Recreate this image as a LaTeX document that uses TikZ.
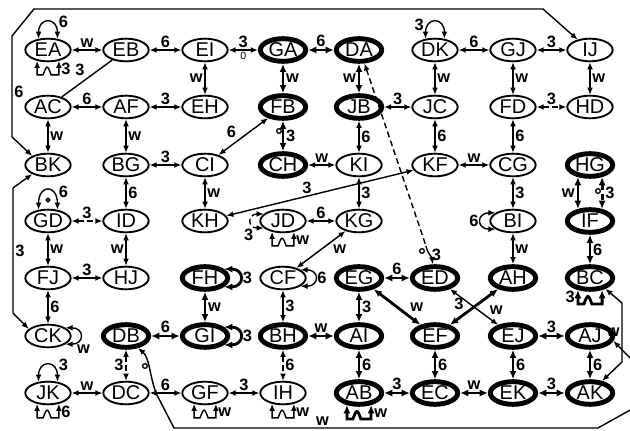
\documentclass[tikz,border=0pt]{standalone}
\usepackage{fontspec}
\setmainfont{Liberation Sans}
\usetikzlibrary{shapes.geometric,arrows.meta}

\tikzset{
  st/.style={ellipse,draw,line width=1.6pt,minimum width=1.36cm,minimum height=0.68cm,inner sep=0pt,font=\fontsize{17}{17}\selectfont},
  hv/.style={st,line width=4.2pt},
  e/.style={{Latex[length=6pt,width=5pt]}-{Latex[length=6pt,width=5pt]},line width=1.2pt},
  he/.style={{Latex[length=7pt,width=6pt]}-{Latex[length=7pt,width=6pt]},line width=2.4pt},
  dsh/.style={dash pattern=on 5pt off 3pt},
  lb/.style={font=\bfseries\fontsize{14}{14}\selectfont,inner sep=1.5pt},
  mk/.style={line width=1.1pt},
}

\begin{document}
\begin{tikzpicture}[x=0.03cm,y=0.03cm]
\useasboundingbox (0,0) rectangle (630,-431);

% row 1
\node[st] (EA) at (48,-50) {EA};
\node[st] (EB) at (126,-50) {EB};
\node[st] (EI) at (205,-50) {EI};
\node[hv] (GA) at (283,-50) {GA};
\node[hv] (DA) at (359,-50) {DA};
\node[st] (DK) at (435,-50) {DK};
\node[st] (GJ) at (513,-50) {GJ};
\node[st] (IJ) at (590,-50) {IJ};
% row 2
\node[st] (AC) at (48,-107) {AC};
\node[st] (AF) at (126,-107) {AF};
\node[st] (EH) at (205,-107) {EH};
\node[hv] (FB) at (283,-107) {FB};
\node[hv] (JB) at (359,-107) {JB};
\node[st] (JC) at (435,-107) {JC};
\node[st] (FD) at (513,-107) {FD};
\node[st] (HD) at (590,-107) {HD};
% row 3
\node[st] (BK) at (48,-165) {BK};
\node[st] (BG) at (126,-165) {BG};
\node[st] (CI) at (205,-165) {CI};
\node[hv] (CH) at (283,-165) {CH};
\node[st] (KI) at (359,-165) {KI};
\node[st] (KF) at (435,-165) {KF};
\node[st] (CG) at (513,-165) {CG};
\node[hv] (HG) at (590,-165) {HG};
% row 4
\node[st] (GD) at (48,-221) {GD};
\node[st] (ID) at (126,-221) {ID};
\node[st] (KH) at (205,-221) {KH};
\node[st] (JD) at (283,-221) {JD};
\node[st] (KG) at (359,-221) {KG};
\node[st] (BI) at (513,-221) {BI};
\node[hv] (IF) at (590,-221) {IF};
% row 5
\node[st] (FJ) at (48,-278) {FJ};
\node[st] (HJ) at (126,-278) {HJ};
\node[hv] (FH) at (205,-278) {FH};
\node[st] (CF) at (283,-278) {CF};
\node[hv] (EG) at (359,-278) {EG};
\node[hv] (ED) at (435,-278) {ED};
\node[hv] (AH) at (513,-278) {AH};
\node[hv] (BC) at (590,-278) {BC};
% row 6
\node[st] (CK) at (48,-336) {CK};
\node[hv] (DB) at (126,-336) {DB};
\node[hv] (GI) at (205,-336) {GI};
\node[hv] (BH) at (283,-336) {BH};
\node[hv] (AI) at (359,-336) {AI};
\node[hv] (EF) at (435,-336) {EF};
\node[hv] (EJ) at (513,-336) {EJ};
\node[hv] (AJ) at (590,-336) {AJ};
% row 7
\node[st] (JK) at (48,-393) {JK};
\node[st] (DC) at (126,-393) {DC};
\node[st] (GF) at (205,-393) {GF};
\node[st] (IH) at (283,-393) {IH};
\node[hv] (AB) at (359,-393) {AB};
\node[hv] (EC) at (435,-393) {EC};
\node[hv] (EK) at (513,-393) {EK};
\node[hv] (AK) at (590,-393) {AK};

\coordinate (wb) at (632,-409);
\coordinate (wr) at (632,-360);
\coordinate (dq) at (426,-246);

% connectors
\draw[e] (EA) -- node[lb,above]{w} (EB);
\draw[e] (EB) -- node[lb,above]{6} (EI);
\draw[e] (EI) -- node[lb,above]{3} node[below,inner sep=1pt,font=\fontsize{9}{9}\selectfont]{0} (GA);
\draw[he] (GA) -- node[lb,above]{6} (DA);
\draw[e] (DK) -- node[lb,above]{6} (GJ);
\draw[e] (GJ) -- node[lb,above]{3} (IJ);
\draw[e] (EI) -- node[lb,left]{w} (EH);
\draw[he] (GA) -- node[lb,right]{w} (FB);
\draw[he] (DA) -- node[lb,left]{w} (JB);
\draw[e] (DK) -- node[lb,right]{w} (JC);
\draw[e] (GJ) -- node[lb,right]{w} (FD);
\draw[e] (IJ) -- node[lb,right]{w} (HD);
\draw[line width=1.2pt] (EB) -- node[lb,above left]{3} (AC);
\draw[e] (AC) -- node[lb,above]{6} (AF);
\draw[e] (AF) -- node[lb,above]{3} (EH);
\draw[e] (JB) -- node[lb,above]{3} (JC);
\draw[e,dsh] (FD) -- node[lb,above]{3} (HD);
\draw[e] (AC) -- node[lb,right]{w} (BK);
\draw[e] (AF) -- node[lb,right]{w} (BG);
\draw[e] (CI) -- node[lb,above left,pos=0.4]{6} (FB);
\draw[he] (FB) -- node[lb,right]{3} (CH);
\draw[e] (JB) -- node[lb,right]{6} (KI);
\draw[e] (JC) -- node[lb,right]{6} (KF);
\draw[e] (FD) -- node[lb,right]{6} (CG);
\draw[e] (BG) -- node[lb,above]{3} (CI);
\draw[e] (CH) -- node[lb,above]{w} (KI);
\draw[e] (KF) -- node[lb,above]{w} (CG);
\draw[e] (KF) -- node[lb,above,pos=0.57]{3} (KH);
\draw[he] (HG.-135) -- node[lb,left]{w} (IF.135);
\draw[he,dsh] (HG.-45) -- node[lb,right]{3} (IF.45);
\draw[e] (BG) -- node[lb,right]{6} (ID);
\draw[e] (CI) -- node[lb,right]{w} (KH);
\draw[e] (KI) -- node[lb,right]{3} (KG);
\draw[e] (CG) -- node[lb,right]{3} (BI);
\draw[e,dsh] (GD) -- node[lb,above]{3} (ID);
\draw[e] (JD) -- node[lb,above]{6} (KG);
\draw[e] (GD) -- node[lb,right]{w} (FJ);
\draw[e] (ID) -- node[lb,left]{w} (HJ);
\draw[e] (KG) -- node[lb,below right,pos=0.3]{w} (CF);
\draw[e] (BI) -- node[lb,right]{w} (AH);
\draw[he] (IF) -- node[lb,right]{6} (BC);
\draw[e] (FJ) -- node[lb,above]{3} (HJ);
\draw[he] (EG) -- node[lb,above]{6} (ED);
\draw[he] (EG) -- node[lb,above right,pos=0.72]{w} (EF);
\draw[he] (EF) -- node[lb,above left,pos=0.35]{3} (AH);
\draw[e] (ED) -- node[lb,above right,pos=0.78]{w} (EJ);
\draw[e] (FJ) -- node[lb,right]{6} (CK);
\draw[he] (FH) -- node[lb,right]{w} (GI);
\draw[e] (CF) -- node[lb,right]{3} (BH);
\draw[he] (EG) -- node[lb,right]{3} (AI);
\draw[he] (DB) -- node[lb,above]{6} (GI);
\draw[he] (BH) -- node[lb,above]{w} (AI);
\draw[he] (EJ) -- node[lb,above]{3} (AJ);
\draw[e,dsh] (DB) -- node[lb,left]{3} (DC);
\draw[e,dsh] (BH) -- node[lb,right]{6} (IH);
\draw[he] (AI) -- node[lb,right]{6} (AB);
\draw[he] (EF) -- node[lb,right]{6} (EC);
\draw[he] (EJ) -- node[lb,right]{6} (EK);
\draw[he] (AJ) -- node[lb,right]{6} (AK);
\draw[e] (JK) -- node[lb,above]{w} (DC);
\draw[e] (DC) -- node[lb,above]{6} (GF);
\draw[e] (GF) -- node[lb,above]{3} (IH);
\draw[he] (AB) -- node[lb,above]{3} (EC);
\draw[he] (EC) -- node[lb,above]{w} (EK);
\draw[he] (EK) -- node[lb,above]{3} (AK);

% long routes
\draw[e] (BK.150) -- (12,-137) -- node[lb,right,pos=0.45]{6} (12,-36) -- (34,-9) -- (543,-9) -- (IJ.140);
\draw[e] (BK.210) -- (13,-188) -- node[lb,right]{3} (13,-313) -- (CK.160);
\draw[e] (AK.45) -- (622,-362) -- node[lb,left]{w} (622,-303) -- (BC.-35);
\draw[{Latex[length=6pt,width=5pt]}-,line width=1.2pt] (DB.-45) .. controls (150,-358) and (150,-380) .. (157,-395) -- (174,-428) -- node[lb,above,pos=0.35]{w} (598,-428) -- (wb);
\draw[{Latex[length=6pt,width=5pt]}-,line width=1.2pt] (AJ.-12) -- (wr);
\draw[{Latex[length=6pt,width=5pt]}-,line width=1.2pt,dsh] (DA.-68) -- (dq);
\draw[-{Latex[length=6pt,width=5pt]},line width=1.2pt] (dq) to[out=-80,in=95] node[lb,right]{3} (ED.100);

% loops
\draw[e] (EA.130) to[out=90,in=90,looseness=3] node[lb,above right,pos=0.85]{6} (EA.50);
\draw[e] (EA.-135) -- ++(0,-14) -- ++(6,0) to[out=70,in=110,looseness=3.5] ++(8,0) -| node[lb,right,pos=0.7]{3} (EA.-45);
\draw[e] (DK.130) to[out=90,in=90,looseness=3] node[lb,above left,pos=0.1]{3} (DK.50);
\draw[e] (GD.130) to[out=90,in=90,looseness=3.5] node[lb,above right,pos=0.85]{6} (GD.50);
\draw[e,dsh] (JD.160) to[out=180,in=180,looseness=3] node[lb,below left,pos=0.8]{3} (JD.200);
\draw[e] (JD.-135) -- ++(0,-14) -- ++(6,0) to[out=70,in=110,looseness=3.5] ++(8,0) -| node[lb,right,pos=0.7]{w} (JD.-45);
\draw[e] (BI.155) to[out=180,in=180,looseness=3] node[lb,left]{6} (BI.205);
\draw[he] (FH.25) to[out=0,in=0,looseness=3] node[lb,right]{3} (FH.-25);
\draw[e] (CF.25) to[out=0,in=0,looseness=3] node[lb,right]{6} (CF.-25);
\draw[he] (GI.25) to[out=0,in=0,looseness=3] node[lb,right]{3} (GI.-25);
\draw[e] (CK.25) to[out=0,in=0,looseness=3] node[lb,below right,pos=0.8]{w} (CK.-25);
\draw[he] (BC.-135) -- node[lb,left]{3} ++(0,-14) -- ++(6,0) to[out=70,in=110,looseness=3.5] ++(8,0) -| (BC.-45);
\draw[e] (JK.130) to[out=90,in=90,looseness=3] node[lb,above right,pos=0.85]{3} (JK.50);
\draw[e] (JK.-135) -- ++(0,-14) -- ++(6,0) to[out=70,in=110,looseness=3.5] ++(8,0) -| node[lb,right,pos=0.7]{6} (JK.-45);
\draw[e] (GF.-135) -- ++(0,-14) -- ++(6,0) to[out=70,in=110,looseness=3.5] ++(8,0) -| node[lb,right,pos=0.7]{w} (GF.-45);
\draw[e] (IH.-135) -- ++(0,-14) -- ++(6,0) to[out=70,in=110,looseness=3.5] ++(8,0) -| node[lb,right,pos=0.7]{w} (IH.-45);
\draw[he] (AB.-135) -- ++(0,-14) -- ++(6,0) to[out=70,in=110,looseness=3.5] ++(8,0) -| node[lb,right,pos=0.7]{w} (AB.-45);

% small marks
\draw[mk] (279,-131) circle (2pt);
\draw[mk] (598,-191) circle (2pt);
\draw[mk] (422,-251) circle (2pt);
\draw[mk] (145,-366) circle (2pt);
\draw[mk] (48,-200) circle (1.6pt);
\end{tikzpicture}
\end{document}
